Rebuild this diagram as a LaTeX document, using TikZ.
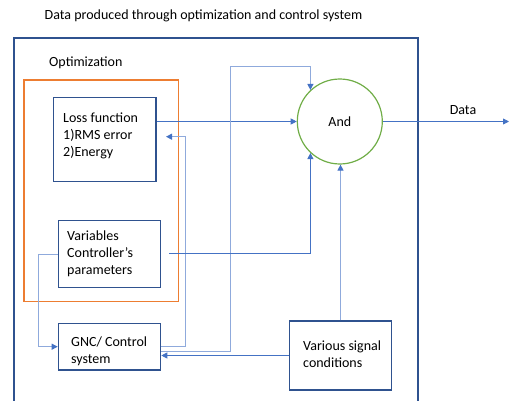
\documentclass[tikz,border=0pt]{standalone}
\usepackage{fontspec}
\setmainfont{Carlito}
\usetikzlibrary{arrows.meta}
\definecolor{boxblue}{HTML}{2F528F}
\definecolor{lineblue}{HTML}{4472C4}
\definecolor{lightblue}{HTML}{8FAADC}
\definecolor{orng}{HTML}{ED7D31}
\definecolor{grn}{HTML}{70AD47}
\tikzset{
  box/.style={draw=boxblue, line width=1.2pt, minimum width=102.4pt, inner sep=0pt},
  txt/.style={inner sep=0pt, align=left, font=\fontsize{14}{17}\selectfont},
  tip/.style={-{Triangle[length=6pt,width=6pt,color=lineblue]}},
  darr/.style={draw=lineblue, line width=0.8pt, tip},
  larr/.style={draw=lightblue, line width=1pt, tip},
}
\begin{document}
\begin{tikzpicture}[x=1pt,y=-1pt]
\useasboundingbox (0,0) rectangle (509,401);
% outer frame
\draw[boxblue, line width=1.2pt] (14,405) -- (14,38) -- (418,38) -- (418,405);
\node[txt] (title) at (203.5,16) {Data produced through optimization and control system};
\node[txt, anchor=west] (optlbl) at (49,63) {Optimization};
% orange box
\node[draw=orng, line width=1.2pt, minimum width=154.3pt, minimum height=221.7pt, inner sep=0pt] (opt) at (101.2,190.8) {};
% boxes
\node[box, minimum width=102.7pt, minimum height=84.4pt] (loss) at (104.7,139.5) {};
\node[txt, anchor=west] (losstxt) at (63,135.5) {Loss function\\1)RMS error\\2)Energy};
\node[box, minimum height=66.6pt] (var) at (109.5,254) {};
\node[txt, anchor=west] (vartxt) at (67,253.5) {Variables\\Controller’s\\parameters};
\node[box, minimum height=46.7pt] (gnc) at (109.5,346.7) {};
\node[txt, anchor=west] (gnctxt) at (71,351) {GNC/ Control\\system};
\node[box, minimum height=69pt] (sig) at (340.5,355.5) {};
\node[txt, anchor=west] (sigtxt) at (303,354) {Various signal\\conditions};
% And circle
\node[circle, draw=grn, line width=1.2pt, minimum size=85pt, inner sep=0pt, font=\fontsize{14}{17}\selectfont] (and) at (339.8,121.5) {And};
% data output
\coordinate (dataend) at (509,121.5);
\draw[darr] (and.east) -- (dataend);
\node[txt] (datalbl) at (463,110.5) {Data};
% connectors
\draw[darr] (loss.east |- and.west) -- (and.west);
\coordinate (losstip) at (166,136.7);
\draw[larr] (gnc.east) -| (185.7,136.7) -- (losstip);
\draw[larr] ([yshift=-5pt]gnc.east) -| (230,66.7) -| (and.133);
\coordinate (varout) at (169,253.3);
\draw[darr] (varout) -| (and.227);
\draw[larr] (var.west) -- ++(-19.3,0) |- (gnc.west);
\draw[larr] (sig.north) -- (and.south -| sig.north);
\draw[darr] (sig.west) -- (gnc.east |- sig.west);
\end{tikzpicture}
\end{document}
